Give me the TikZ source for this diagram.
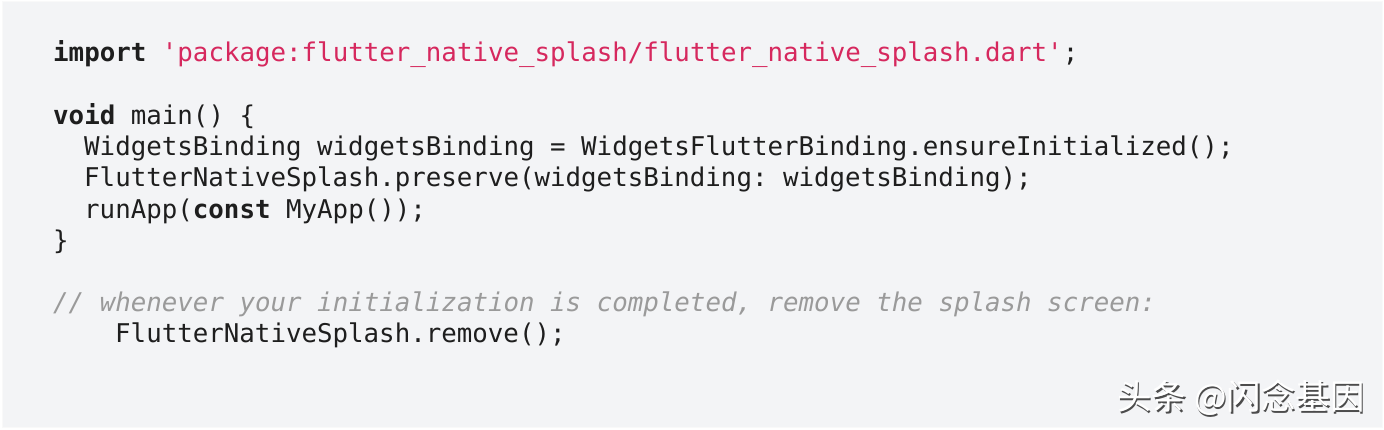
\documentclass[tikz,border=0pt]{standalone}
\usepackage{fontspec}
\setmonofont{DejaVu Sans Mono}
\newfontfamily\cjk{Noto Sans CJK SC}
\definecolor{bgc}{HTML}{F3F4F6}
\definecolor{strc}{HTML}{D6285E}
\definecolor{kw}{HTML}{1E1E1E}
\definecolor{cmt}{HTML}{9A9A9A}
\begin{document}
\begin{tikzpicture}[x=1pt,y=1pt,
  code/.style={anchor=base west,inner sep=0pt,font=\ttfamily\fontsize{25.8}{30}\selectfont,text=kw}]
\useasboundingbox (0,0) rectangle (1384,430);
\fill[white] (0,0) rectangle (1384,430);
\fill[bgc,draw=white!95!gray,line width=1pt] (2,2) rectangle (1382,428);
\node[code] (l1) at (53,368) {\textbf{import} \textcolor{strc}{'package:flutter\_native\_splash/flutter\_native\_splash.dart'};};
\node[code] (l2) at (53,305) {\textbf{void} main() \{};
\node[code] (l3) at (84,274) {WidgetsBinding widgetsBinding = WidgetsFlutterBinding.ensureInitialized();};
\node[code] (l4) at (84,243) {FlutterNativeSplash.preserve(widgetsBinding: widgetsBinding);};
\node[code] (l5) at (84,211) {runApp(\textbf{const} MyApp());};
\node[code] (l6) at (53,180) {\}};
\node[code,text=cmt] (l7) at (53,118) {\textit{// whenever your initialization is completed, remove the splash screen:}};
\node[code] (l8) at (115,87) {FlutterNativeSplash.remove();};
\node[anchor=base east,inner sep=0pt,font=\cjk\fontsize{34.5}{38}\selectfont,text=black!70] at (1366.5,18.5) {头条 @闪念基因};
\node[anchor=base east,inner sep=0pt,font=\cjk\fontsize{34.5}{38}\selectfont,text=white] (wm) at (1365,20) {头条 @闪念基因};
\end{tikzpicture}
\end{document}
